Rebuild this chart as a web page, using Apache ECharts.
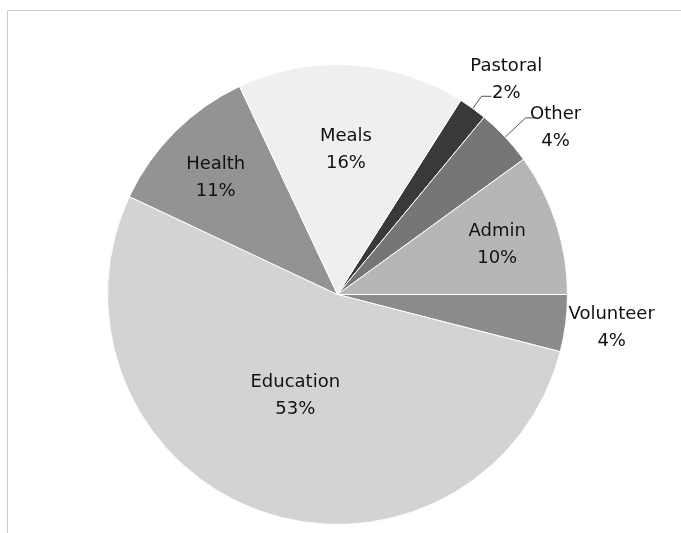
<!DOCTYPE html>
<html>
<head>
<meta charset="utf-8">
<style>
html,body{margin:0;padding:0;background:#fff;}
#chart{width:681px;height:533px;}
</style>
<script src="https://cdn.jsdelivr.net/npm/echarts@6/dist/echarts.min.js"></script>
</head>
<body>
<div id="chart"></div>
<script>
// ---- data ----
var categories = ['Pastoral', 'Other', 'Admin', 'Volunteer', 'Education', 'Health', 'Meals'];
var values = [2, 4, 10, 4, 53, 11, 16];

// ---- styles ----
var sliceColors = ['#393939', '#767676', '#b6b6b6', '#8b8b8b', '#d3d3d3', '#939393', '#efefef'];
var labelRadiusFactor = [1.195, 1.2, 0.73, 1.2, 0.47, 0.74, 0.64];
var labelAngleShift = [-1.9, -5.4, 0, 0.6, -3.2, 0.7, 0.3];
var leaderElbow = [15, 28, 0, 0, 0, 0, 0];   // 0 = no leader line
var leaderRun = 10;
var CX = 337.5, CY = 294.5, R = 230, START = 57.6, LABEL_DY = 2;

var total = values.reduce(function (a, b) { return a + b; }, 0);
function midAngle(i) {
  var acc = 0;
  for (var k = 0; k < i; k++) acc += values[k];
  return START - (acc + values[i] / 2) / total * 360;
}

var chart = echarts.init(document.getElementById('chart'), null, {renderer: 'canvas'});
chart.setOption({
  animation: false,
  graphic: [{
    type: 'rect', silent: true, z: -10,
    shape: {x: 7.5, y: 10.5, width: 900, height: 800},
    style: {fill: 'none', stroke: '#cccccc', lineWidth: 1}
  }],
  series: [{
    type: 'pie',
    center: [CX, CY],
    radius: [0, R],
    startAngle: START,
    clockwise: true,
    avoidLabelOverlap: false,
    emphasis: {disabled: true},
    itemStyle: {borderColor: '#ffffff', borderWidth: 1},
    label: {
      show: true,
      position: 'outside',
      formatter: '{b}\n{c}%',
      fontFamily: 'DejaVu Sans',
      fontSize: 18,
      lineHeight: 27,
      color: '#111111'
    },
    labelLine: {show: true, length: 6, length2: 8, lineStyle: {color: '#555555', width: 1}},
    labelLayout: function (p) {
      var i = p.dataIndex;
      var m = midAngle(i) * Math.PI / 180;
      var a = (midAngle(i) + labelAngleShift[i]) * Math.PI / 180;
      var r = R * labelRadiusFactor[i];
      var out = {
        x: CX + r * Math.cos(a),
        y: CY - r * Math.sin(a) + LABEL_DY,
        align: 'center',
        verticalAlign: 'middle'
      };
      if (leaderElbow[i] > 0) {
        var x0 = CX + R * Math.cos(m), y0 = CY - R * Math.sin(m);
        var re = R + leaderElbow[i];
        var x1 = CX + re * Math.cos(m), y1 = CY - re * Math.sin(m);
        out.labelLinePoints = [[x0, y0], [x1, y1], [x1 + leaderRun, y1]];
      }
      return out;
    },
    data: categories.map(function (name, i) {
      return {
        name: name,
        value: values[i],
        itemStyle: {color: sliceColors[i]},
        labelLine: {show: leaderElbow[i] > 0}
      };
    })
  }]
});
</script>
</body>
</html>
